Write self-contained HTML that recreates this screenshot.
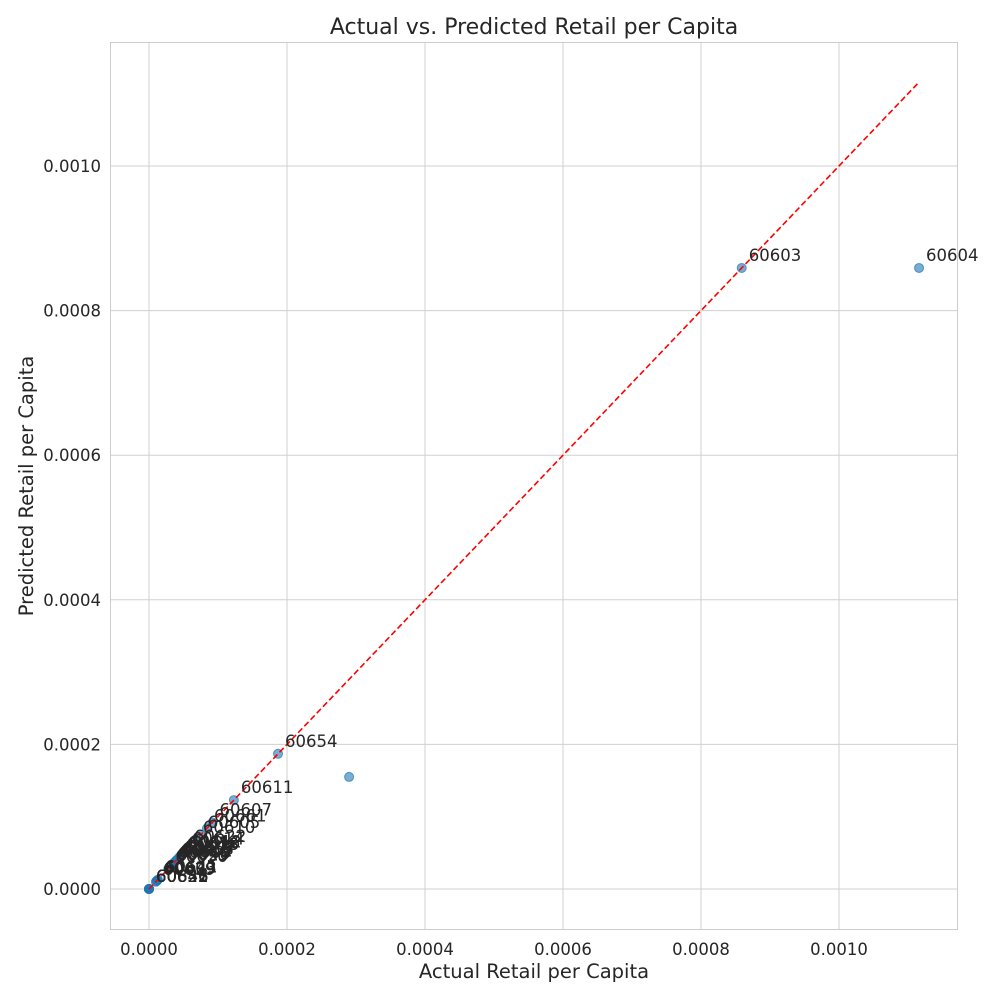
<!DOCTYPE html>
<html><head><meta charset="utf-8"><style>
body{margin:0;background:#fff;font-family:"DejaVu Sans","Liberation Sans",sans-serif}
</style></head><body>
<svg id="chart" width="1000" height="1000" style="display:block;font-family:'DejaVu Sans','Liberation Sans',sans-serif">
<rect x="0" y="0" width="1000" height="1000" fill="#fff"/>
<g id="grid"></g>
<rect x="110.5" y="42.5" width="847" height="887" fill="none" stroke="#ccc" stroke-width="1"/>
<g id="marks"></g>
<text x="534" y="34" text-anchor="middle" font-size="22" fill="#262626">Actual vs. Predicted Retail per Capita</text>
<text x="534" y="978" text-anchor="middle" font-size="19.5" fill="#262626">Actual Retail per Capita</text>
<text x="33" y="486" text-anchor="middle" font-size="19.5" fill="#262626" transform="rotate(-90 33 486)">Predicted Retail per Capita</text>
</svg>
<script>
const zips = ["60604","60603","60654","60611","60607","60661","60605","60610","60622","60614","60612","60616","60618","60647","60657","60613","60642","60608","60640","60625","60630","60641","60623","60609","60639","60631","60633","60652","60655","60656","60827","60646"];
const actual = [0.001116,0.000859,0.000187,0.000123,0.000092,0.000084,0.000075,0.000068,0.000055,0.000052,0.000048,0.000046,0.000044,0.000041,0.000039,0.000037,0.000035,0.000033,0.000031,0.000030,0.000028,0.000013,0.000012,0.000011,0.000010,0,0,0,0,0,0,0];
const predicted = [0.000859,0.000859,0.000187,0.000123,0.000092,0.000084,0.000075,0.000068,0.000055,0.000052,0.000048,0.000046,0.000044,0.000041,0.000039,0.000037,0.000035,0.000033,0.000031,0.000030,0.000028,0.000013,0.000012,0.000011,0.000010,0,0,0,0,0,0,0];
const unlabeledActual = [0.00029];
const unlabeledPredicted = [0.000155];
const xTicks = [0,0.0002,0.0004,0.0006,0.0008,0.0010];
const yTicks = [0,0.0002,0.0004,0.0006,0.0008,0.0010];

const NS="http://www.w3.org/2000/svg";
const X=v=>149+v*690000;
const Y=v=>889-v*723000;
const grid=document.getElementById('grid'), marks=document.getElementById('marks');
function mk(tag,attrs,parent){const e=document.createElementNS(NS,tag);for(const k in attrs)e.setAttribute(k,attrs[k]);parent.appendChild(e);return e;}
xTicks.forEach(t=>{
  const l=mk('line',{x1:X(t),x2:X(t),y1:42,y2:930,stroke:'#d0d0d0'},grid);
  
  
  const tx=mk('text',{x:X(t),y:955,'text-anchor':'middle','font-size':16.5,fill:'#262626'},grid);
  tx.textContent=t.toFixed(4);
  
  
});
yTicks.forEach(t=>{
  const l=mk('line',{x1:110,x2:958,y1:Y(t),y2:Y(t),stroke:'#d0d0d0'},grid);
  
  
  const tx=mk('text',{x:101,y:Y(t)+6,'text-anchor':'end','font-size':16.5,fill:'#262626'},grid);
  tx.textContent=t.toFixed(4);
  
  
});
function dot(a,p){
  const c=mk('circle',{cx:X(a),cy:Y(p),r:4.5,fill:'#1f77b4','fill-opacity':0.6,stroke:'#1f77b4','stroke-opacity':0.7,'stroke-width':1},marks);
  
  
}
actual.forEach((a,i)=>dot(a,predicted[i]));
unlabeledActual.forEach((a,i)=>dot(a,unlabeledPredicted[i]));
const maxV=Math.max(...actual,...predicted);
const ln=mk('line',{x1:X(0),y1:Y(0),x2:X(maxV),y2:Y(maxV),stroke:'#ff0000','stroke-width':1.6,'stroke-dasharray':'6,3'},marks);


actual.forEach((a,i)=>{
  const t=mk('text',{x:X(a)+7,y:Y(predicted[i])-7,'font-size':16.5,fill:'#262626'},marks);
  t.textContent=zips[i];
  
  
});
</script>
</body></html>
